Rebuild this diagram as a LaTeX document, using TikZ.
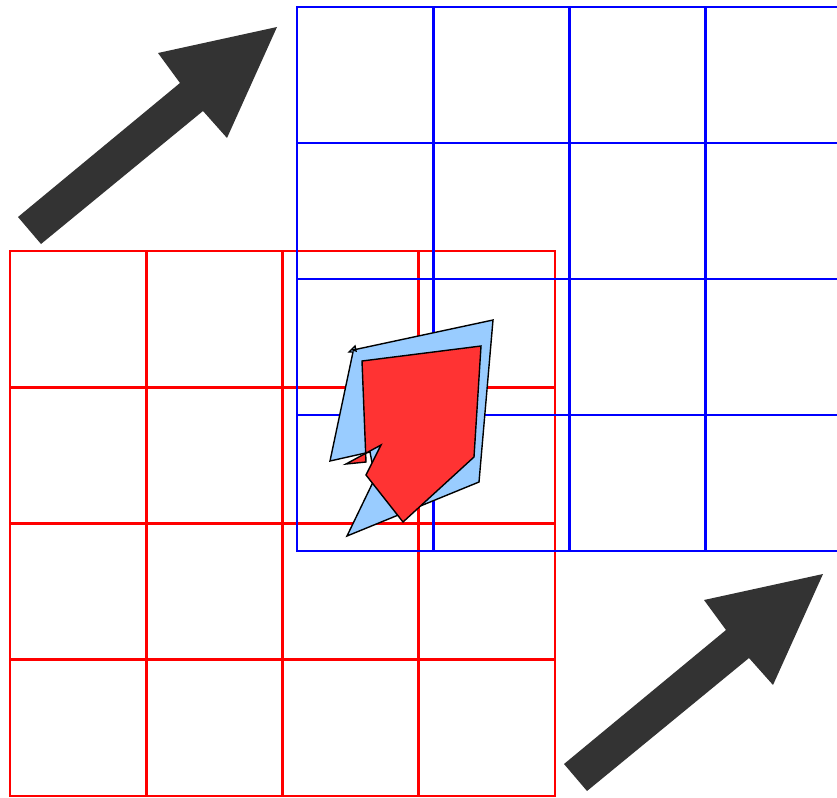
\documentclass[tikz,border=0pt]{standalone}
\definecolor{gridred}{RGB}{255, 0, 0}
\definecolor{gridblue}{RGB}{0, 0, 255}
\definecolor{clipfill}{RGB}{153, 204, 255}
\definecolor{subjfill}{RGB}{255, 51, 51}
\definecolor{arrowgray}{RGB}{51, 51, 51}
\usetikzlibrary{calc}

\begin{document}
\begin{tikzpicture}[x=1pt, y=-1pt,
        cellline/.style={line width=2.8pt},
        gridframe/.style={line width=1.6pt},
        bigarrow/.style={fill=arrowgray},
        poly/.style={draw=black, line width=1.4pt, line join=miter}
    ]
        \useasboundingbox (0,0) rectangle (837,797);
        \begin{scope}
        \clip (0,0) rectangle (837,797);
        % red grid
        \foreach \i in {1,2,3} {
            \draw[cellline, gridred] ({10+136.25*\i},251) -- ({10+136.25*\i},796);
            \draw[cellline, gridred] (10,{251+136.25*\i}) -- (555,{251+136.25*\i});
        }
        \draw[gridframe, gridred] (10,251) rectangle (555,796);
        % blue grid
        \foreach \i in {1,2,3} {
            \draw[cellline, gridblue] ({297+136.25*\i},7) -- ({297+136.25*\i},551);
            \draw[cellline, gridblue] (297,{7+136*\i}) -- (842,{7+136*\i});
        }
        \draw[gridframe, gridblue] (297,7) rectangle (842,551);
        \end{scope}
        % arrows
        \foreach \dx/\dy in {0/0, 546/547}
            \fill[bigarrow, shift={(\dx,\dy)}] (18,217) -- (180,83) -- (158,53) -- (277,27)
                -- (227,138) -- (203,111) -- (41,244) -- cycle;
        % clip polygon
        \draw[poly, fill=clipfill] (353,350) -- (493,320) -- (479,482) -- (347,536)
            -- (375,478) -- (370,452) -- (330,461) -- (353,352) -- (349,352)
            -- (355,346) -- (356,351) -- cycle;
        % subject polygon
        \draw[poly, fill=subjfill] (362,361) -- (481,346) -- (474,457) -- (403,522)
            -- (366,475) -- (381,445) -- (346,464) -- (366,462) -- cycle;
    \end{tikzpicture}
\end{document}
